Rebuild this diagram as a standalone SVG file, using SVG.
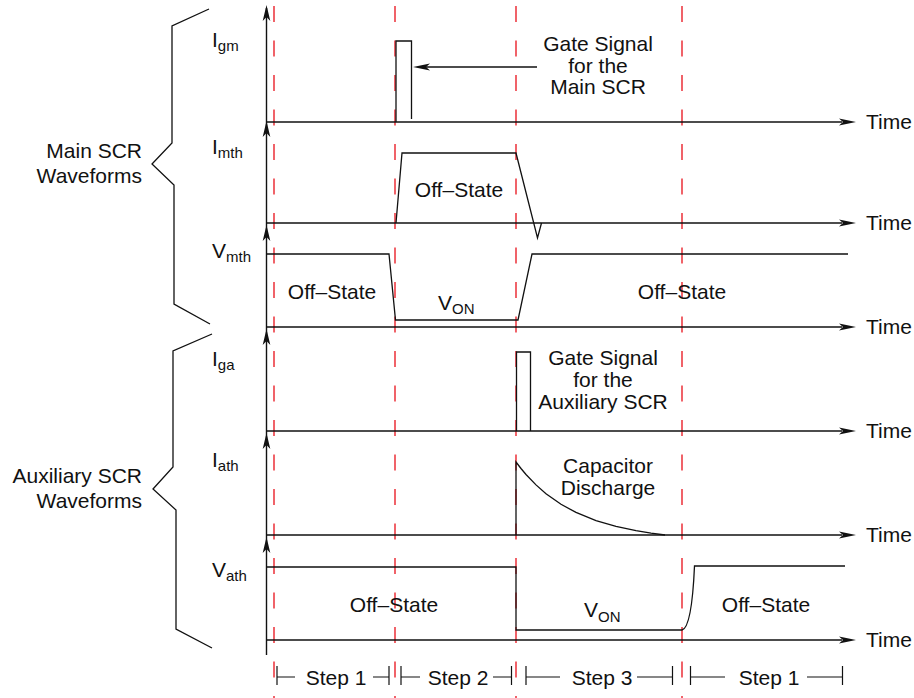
<svg xmlns="http://www.w3.org/2000/svg" width="914" height="698" viewBox="0 0 914 698">
<style>
text{font-family:"Liberation Sans",Arial,sans-serif;font-size:21px;fill:#111}
.sub{font-size:15px}
.c{text-anchor:middle}
.r{text-anchor:end}
.ax{stroke:#111;stroke-width:1.4;fill:none}
.w{stroke:#111;stroke-width:1.3;fill:none;stroke-linejoin:miter}
.red{stroke:#e8101a;stroke-width:1.3;stroke-dasharray:16 18.5;fill:none}
.ah{fill:#111}
.br{stroke:#111;stroke-width:1.3;fill:none}
.st{stroke:#111;stroke-width:1.2;fill:none}
</style>
<defs>
<path id="up" d="M0,0 L-3.8,16 L0,12 L3.8,16 Z"/>
<path id="rt" d="M0,0 L-17,-3.5 L-13,0 L-17,3.5 Z"/>
</defs>

<g id="guides">
<line class="red" x1="274" y1="6" x2="274" y2="698"/>
<line class="red" x1="395" y1="6" x2="395" y2="698"/>
<line class="red" x1="516" y1="6" x2="516" y2="698"/>
<line class="red" x1="682" y1="6" x2="682" y2="698"/>
</g>

<g id="axes">
<line class="ax" x1="266.5" y1="8" x2="266.5" y2="655"/>
<use href="#up" class="ah" x="266.5" y="5"/>
<use href="#up" class="ah" x="266.5" y="121"/>
<use href="#up" class="ah" x="266.5" y="225"/>
<use href="#up" class="ah" x="266.5" y="329"/>
<use href="#up" class="ah" x="266.5" y="433"/>
<use href="#up" class="ah" x="266.5" y="537"/>
<line class="ax" x1="266.5" y1="122" x2="842" y2="122"/>
<line class="ax" x1="266.5" y1="223" x2="842" y2="223"/>
<line class="ax" x1="266.5" y1="327" x2="842" y2="327"/>
<line class="ax" x1="266.5" y1="431" x2="842" y2="431"/>
<line class="ax" x1="266.5" y1="535" x2="842" y2="535"/>
<line class="ax" x1="266.5" y1="640" x2="842" y2="640"/>
<use href="#rt" class="ah" x="856" y="122"/>
<use href="#rt" class="ah" x="856" y="223"/>
<use href="#rt" class="ah" x="856" y="327"/>
<use href="#rt" class="ah" x="856" y="431"/>
<use href="#rt" class="ah" x="856" y="535"/>
<use href="#rt" class="ah" x="856" y="640"/>
<text x="866" y="129">Time</text>
<text x="866" y="230">Time</text>
<text x="866" y="334">Time</text>
<text x="866" y="438">Time</text>
<text x="866" y="542">Time</text>
<text x="866" y="647">Time</text>
</g>

<g id="main-brace">
<polyline class="br" points="209,9 172,26 172,143 152,164 174,185 174,304 210,324"/>
<text class="r" x="142" y="158">Main SCR</text>
<text class="r" x="142" y="183">Waveforms</text>
</g>

<g id="aux-brace">
<polyline class="br" points="212,334 173,351 173,467 153,489 176,510 176,629 212,648"/>
<text class="r" x="142" y="483">Auxiliary SCR</text>
<text class="r" x="142" y="508">Waveforms</text>
</g>

<g id="igm">
<text x="212" y="47">I<tspan class="sub" dy="4">gm</tspan></text>
<polyline class="w" points="396,122 396,41 411.5,41 411.5,119"/>
<text class="c" x="598" y="51">Gate Signal</text>
<text class="c" x="598" y="73">for the</text>
<text class="c" x="598" y="94">Main SCR</text>
</g>

<g id="imth">
<text x="212" y="154">I<tspan class="sub" dy="4">mth</tspan></text>
<polyline class="w" points="396,223 402,153 516,153 537.5,238 541.5,223"/>
<text class="c" x="459" y="197">Off–State</text>
</g>

<g id="vmth">
<text x="212" y="258">V<tspan class="sub" dy="4">mth</tspan></text>
<polyline class="w" points="267,254 389,254 395.5,320 518,320 532,254 848,254"/>
<text class="c" x="332" y="299">Off–State</text>
<text x="438" y="310">V<tspan class="sub" dy="4">ON</tspan></text>
<text class="c" x="682" y="299">Off–State</text>
</g>

<g id="iga">
<text x="212" y="366">I<tspan class="sub" dy="4">ga</tspan></text>
<polyline class="w" points="516.5,431 516.5,352 530.5,352 530.5,431"/>
<text class="c" x="603" y="365">Gate Signal</text>
<text class="c" x="603" y="387">for the</text>
<text class="c" x="603" y="409">Auxiliary SCR</text>
</g>

<g id="iath">
<text x="212" y="467">I<tspan class="sub" dy="4">ath</tspan></text>
<path class="w" d="M516,535 V462 L521,468.5 526,474.5 536,484.9 546,493.7 561,504.3 576,512.4 596,520.6 616,526.4 636,530.7 651,533.1 665,535" stroke-linejoin="round"/>
<text class="c" x="608" y="473">Capacitor</text>
<text class="c" x="608" y="495">Discharge</text>
</g>

<g id="vath">
<text x="212" y="577">V<tspan class="sub" dy="4">ath</tspan></text>
<path class="w" d="M267,567 H516 V630 H682 C690,628 693,600 694.5,566 H845"/>
<text class="c" x="394" y="612">Off–State</text>
<text x="584" y="617">V<tspan class="sub" dy="5">ON</tspan></text>
<text class="c" x="766" y="612">Off–State</text>
</g>

<g id="steps">
<path class="st" d="M277,666 V685 M277,677 H295 M373,677 H389 M389,666 V685"/>
<text class="c" x="336" y="685">Step 1</text>
<path class="st" d="M401,666 V685 M401,677 H420 M493,677 H511.5 M511.5,666 V685"/>
<text class="c" x="458" y="685">Step 2</text>
<path class="st" d="M526,666 V685 M526,677 H560 M637,677 H672.5 M672.5,666 V685"/>
<text class="c" x="602" y="685">Step 3</text>
<path class="st" d="M690.5,666 V685 M690.5,677 H725 M807,677 H842.5 M842.5,666 V685"/>
<text class="c" x="769" y="685">Step 1</text>
</g>

<g id="connectors">
<line class="w" x1="537" y1="67" x2="425" y2="67"/>
<use href="#rt" class="ah" transform="translate(413,67) rotate(180)"/>
</g>
</svg>
